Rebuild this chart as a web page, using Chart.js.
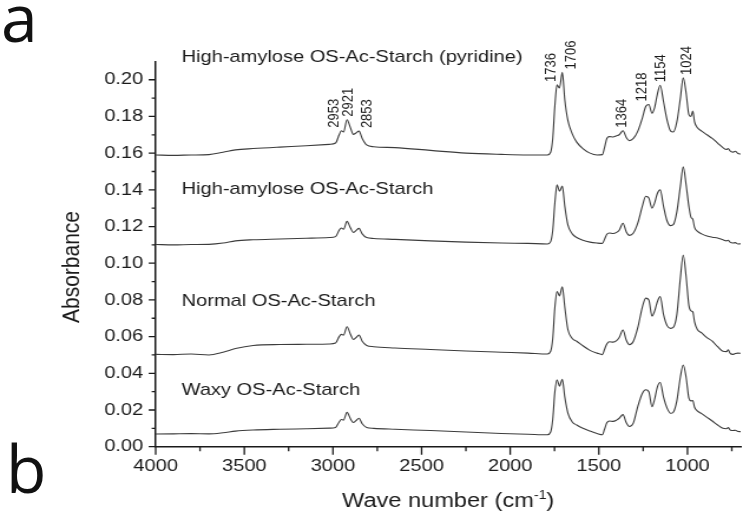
<!DOCTYPE html>
<html>
<head>
<meta charset="utf-8">
<title>FT-IR spectra of OS-Ac-starches</title>
<script src="https://cdn.jsdelivr.net/npm/chart.js@4.4.1/dist/chart.umd.min.js"></script>
<style>
  html, body { margin: 0; padding: 0; background: #fff; }
  #wrap { position: relative; width: 743px; height: 525px; overflow: hidden; }
  #spectra { position: absolute; left: 0; top: 0; }
  .panel { position: absolute; font-family: "Open Sans", sans-serif; font-size: 66px; line-height: 66px; color: #111; }
</style>
</head>
<body>
<div id="wrap">
  <canvas id="spectra" width="630" height="525" style="width:743px;height:525px"></canvas>
  <div class="panel" style="left:1px;top:-17px">a</div>
  <div class="panel" style="left:6px;top:434px">b</div>
</div>
<script>
// wave numbers (cm-1) shared by all four spectra
const waveNumbers = [
  4000, 3900, 3800, 3700, 3620, 3550, 3450, 3300, 3150, 3020,
  2985, 2965, 2953, 2940, 2921, 2900, 2885, 2870, 2853, 2835,
  2810, 2770, 2650, 2450, 2250, 2050, 1900, 1790, 1772, 1760,
  1748, 1736, 1722, 1706, 1692, 1675, 1650, 1625, 1590, 1550,
  1510, 1480, 1468, 1455, 1440, 1420, 1400, 1385, 1364, 1345,
  1328, 1305, 1280, 1255, 1235, 1218, 1200, 1185, 1170, 1154,
  1135, 1115, 1095, 1080, 1060, 1040, 1024, 1008, 992, 980,
  970, 960, 945, 920, 890, 860, 830, 800, 780, 770,
  760, 745, 730, 715, 700
];

const pyridineAc = [
  0.1590, 0.1588, 0.1590, 0.1592, 0.1605, 0.1618, 0.1625, 0.1633, 0.1640, 0.1648,
  0.1655, 0.1700, 0.1722, 0.1715, 0.1782, 0.1735, 0.1702, 0.1710, 0.1720, 0.1680,
  0.1645, 0.1635, 0.1630, 0.1615, 0.1600, 0.1593, 0.1590, 0.1590, 0.1605, 0.1680,
  0.1860, 0.1972, 0.1955, 0.2040, 0.1890, 0.1780, 0.1705, 0.1660, 0.1625, 0.1600,
  0.1590, 0.1592, 0.1630, 0.1680, 0.1690, 0.1688, 0.1695, 0.1700, 0.1722, 0.1685,
  0.1668, 0.1680, 0.1720, 0.1790, 0.1855, 0.1865, 0.1818, 0.1850, 0.1920, 0.1970,
  0.1880, 0.1780, 0.1720, 0.1715, 0.1770, 0.1900, 0.2010, 0.1930, 0.1810, 0.1800,
  0.1830, 0.1770, 0.1740, 0.1720, 0.1700, 0.1680, 0.1655, 0.1630, 0.1620, 0.1625,
  0.1612, 0.1605, 0.1610, 0.1598, 0.1595
];

const highAmyloseAc = [
  0.1102, 0.1100, 0.1102, 0.1103, 0.1110, 0.1122, 0.1128, 0.1132, 0.1136, 0.1140,
  0.1145, 0.1180, 0.1192, 0.1185, 0.1228, 0.1190, 0.1168, 0.1178, 0.1190, 0.1160,
  0.1140, 0.1135, 0.1130, 0.1122, 0.1115, 0.1110, 0.1108, 0.1105, 0.1118, 0.1180,
  0.1330, 0.1428, 0.1392, 0.1420, 0.1310, 0.1210, 0.1160, 0.1140, 0.1125, 0.1115,
  0.1110, 0.1108, 0.1130, 0.1158, 0.1165, 0.1162, 0.1168, 0.1180, 0.1218, 0.1170,
  0.1152, 0.1165, 0.1220, 0.1310, 0.1365, 0.1355, 0.1300, 0.1330, 0.1380, 0.1400,
  0.1310, 0.1230, 0.1205, 0.1210, 0.1280, 0.1420, 0.1525, 0.1430, 0.1310, 0.1250,
  0.1240, 0.1195, 0.1175, 0.1160, 0.1148, 0.1142, 0.1138, 0.1128, 0.1122, 0.1125,
  0.1115, 0.1110, 0.1112, 0.1105, 0.1106
];

const normalAc = [
  0.0503, 0.0502, 0.0505, 0.0500, 0.0515, 0.0535, 0.0552, 0.0557, 0.0558, 0.0560,
  0.0565, 0.0600, 0.0612, 0.0608, 0.0654, 0.0610, 0.0584, 0.0595, 0.0608, 0.0575,
  0.0552, 0.0545, 0.0538, 0.0530, 0.0522, 0.0515, 0.0510, 0.0505, 0.0520, 0.0590,
  0.0760, 0.0845, 0.0822, 0.0872, 0.0760, 0.0640, 0.0590, 0.0575, 0.0550, 0.0525,
  0.0510, 0.0502, 0.0530, 0.0560, 0.0572, 0.0570, 0.0578, 0.0595, 0.0636, 0.0580,
  0.0556, 0.0575, 0.0650, 0.0760, 0.0810, 0.0800, 0.0712, 0.0740, 0.0790, 0.0818,
  0.0720, 0.0660, 0.0645, 0.0650, 0.0720, 0.0920, 0.1045, 0.0930, 0.0770, 0.0740,
  0.0735, 0.0680, 0.0640, 0.0620, 0.0595, 0.0575, 0.0545, 0.0520, 0.0518, 0.0528,
  0.0510, 0.0503, 0.0508, 0.0510, 0.0509
];

const waxyAc = [
  0.0069, 0.0070, 0.0071, 0.0070, 0.0076, 0.0085, 0.0091, 0.0095, 0.0098, 0.0101,
  0.0105, 0.0135, 0.0148, 0.0145, 0.0187, 0.0150, 0.0132, 0.0142, 0.0155, 0.0125,
  0.0105, 0.0100, 0.0095, 0.0088, 0.0080, 0.0072, 0.0068, 0.0065, 0.0080, 0.0150,
  0.0300, 0.0365, 0.0330, 0.0368, 0.0270, 0.0185, 0.0135, 0.0118, 0.0100, 0.0085,
  0.0072, 0.0065, 0.0095, 0.0130, 0.0140, 0.0138, 0.0145, 0.0155, 0.0175, 0.0130,
  0.0110, 0.0130, 0.0220, 0.0290, 0.0310, 0.0300, 0.0218, 0.0260, 0.0325, 0.0350,
  0.0270, 0.0210, 0.0182, 0.0188, 0.0250, 0.0380, 0.0445, 0.0380, 0.0265, 0.0250,
  0.0252, 0.0215, 0.0195, 0.0180, 0.0160, 0.0140, 0.0118, 0.0100, 0.0098, 0.0104,
  0.0092, 0.0088, 0.0090, 0.0083, 0.0082
];

const seriesNames = [
  'High-amylose OS-Ac-Starch (pyridine)',
  'High-amylose OS-Ac-Starch',
  'Normal OS-Ac-Starch',
  'Waxy OS-Ac-Starch'
];
const seriesValues = [pyridineAc, highAmyloseAc, normalAc, waxyAc];

// assigned bands, marked on the top spectrum
const peakWaves = [2953, 2921, 2853, 1736, 1706, 1364, 1218, 1154, 1024];

const xTickLabels = ['4000', '3500', '3000', '2500', '2000', '1500', '1000'];
const yTickLabels = ['0.00', '0.02', '0.04', '0.06', '0.08', '0.10', '0.12', '0.14', '0.16', '0.18', '0.20'];

const xMajor = xTickLabels.map(Number);
const xMinor = xMajor.map(v => v - 250);
const yMajor = yTickLabels.map(Number);
const yMinor = yMajor.slice(0, -1).map(v => +(v + 0.01).toFixed(2));

Chart.defaults.font.family = '"Liberation Sans", Arial, sans-serif';
Chart.defaults.color = '#1a1a1a';

// the plot is drawn on a narrower canvas and stretched to full width by CSS
const STRETCH = 743 / 630;
const INK = '#1a1a1a';

// where the sample names sit (baseline, in absorbance units)
const nameLevels = [0.2098, 0.1377, 0.0767, 0.0282];
// sideways nudge of each band label from its peak, px
const peakNudge = { 2953: -6.5, 2921: 1.5, 2853: 8, 1736: -6.2, 1706: 8.8, 1364: -1, 1218: -6.4, 1154: 1, 1024: 4 };

const annotate = {
  id: 'annotate',
  afterDraw(chart) {
    const { ctx, chartArea, scales: { x, y } } = chart;
    ctx.save();

    // tick marks, outward
    ctx.strokeStyle = INK;
    ctx.lineWidth = 1.3;
    ctx.beginPath();
    xMajor.concat(xMinor).forEach(v => {
      const px = x.getPixelForValue(v);
      const len = xMajor.includes(v) ? 8 : 4.5;
      ctx.moveTo(px, chartArea.bottom);
      ctx.lineTo(px, chartArea.bottom + len);
    });
    yMajor.concat(yMinor).forEach(v => {
      const py = y.getPixelForValue(v);
      const len = (yMajor.includes(v) ? 7 : 4) / STRETCH;
      ctx.moveTo(chartArea.left, py);
      ctx.lineTo(chartArea.left - len, py);
    });
    ctx.stroke();

    ctx.fillStyle = INK;

    // sample names
    ctx.font = '17px "Liberation Sans", Arial, sans-serif';
    ctx.textAlign = 'left';
    ctx.textBaseline = 'alphabetic';
    seriesNames.forEach((name, i) => {
      ctx.fillText(name, 154, y.getPixelForValue(nameLevels[i]));
    });

    // band positions, written upward just above each peak
    ctx.font = '13px "Liberation Sans", Arial, sans-serif';
    ctx.textBaseline = 'middle';
    peakWaves.forEach(w => {
      const idx = waveNumbers.indexOf(w);
      const px = x.getPixelForValue(w) + peakNudge[w] / STRETCH;
      const py = y.getPixelForValue(pyridineAc[idx]) - 3;
      ctx.save();
      ctx.translate(px, py);
      ctx.rotate(-Math.PI / 2);
      ctx.fillText(String(w), 0, 0);
      ctx.restore();
    });

    // y axis title
    ctx.font = '21px "Liberation Sans", Arial, sans-serif';
    ctx.textAlign = 'center';
    ctx.save();
    ctx.translate(61, 267);
    ctx.rotate(-Math.PI / 2);
    ctx.fillText('Absorbance', 0, 0);
    ctx.restore();

    // x axis title with superscript
    const main = 'Wave number (cm';
    const sup = '-1';
    ctx.textAlign = 'left';
    ctx.textBaseline = 'alphabetic';
    ctx.font = '20px "Liberation Sans", Arial, sans-serif';
    const wMain = ctx.measureText(main).width;
    const wClose = ctx.measureText(')').width;
    ctx.font = '12px "Liberation Sans", Arial, sans-serif';
    const wSup = ctx.measureText(sup).width;
    const cx = (chartArea.left + chartArea.right) / 2;
    let tx = cx - (wMain + wSup + wClose) / 2;
    const base = 507;
    ctx.font = '20px "Liberation Sans", Arial, sans-serif';
    ctx.fillText(main, tx, base);
    tx += wMain;
    ctx.font = '12px "Liberation Sans", Arial, sans-serif';
    ctx.fillText(sup, tx, base - 8);
    tx += wSup;
    ctx.font = '20px "Liberation Sans", Arial, sans-serif';
    ctx.fillText(')', tx, base);

    ctx.restore();
  }
};

const datasets = seriesValues.map((vals, i) => ({
  label: seriesNames[i],
  data: waveNumbers.map((w, j) => ({ x: w, y: vals[j] })),
  showLine: true,
  borderColor: '#3c3c3c',
  borderWidth: 1.1,
  pointRadius: 0,
  fill: false,
  cubicInterpolationMode: 'monotone'
}));

new Chart(document.getElementById('spectra'), {
  type: 'scatter',
  data: { datasets },
  options: {
    responsive: false,
    animation: false,
    layout: { padding: { top: 61.4, right: 2, left: 0, bottom: 0 } },
    plugins: {
      legend: { display: false },
      tooltip: { enabled: false }
    },
    scales: {
      x: {
        type: 'linear',
        reverse: true,
        min: 700,
        max: 4000,
        afterBuildTicks: scale => {
          scale.ticks = xMajor.concat(xMinor).sort((a, b) => b - a).map(v => ({ value: v }));
        },
        afterFit: scale => { scale.height = 525 - 446.7; },
        grid: { display: false, drawTicks: false },
        border: { display: true, color: INK, width: 1.5 },
        ticks: {
          autoSkip: false,
          maxRotation: 0,
          padding: 9,
          font: { size: 17 },
          color: INK,
          callback: v => (xMajor.includes(v) ? String(v) : '')
        }
      },
      y: {
        min: 0,
        max: 0.21,
        afterBuildTicks: scale => {
          scale.ticks = yMajor.concat(yMinor).sort((a, b) => a - b).map(v => ({ value: v }));
        },
        afterFit: scale => { scale.width = 132; },
        grid: { display: false, drawTicks: false },
        border: { display: true, color: INK, width: 1.5 },
        ticks: {
          autoSkip: false,
          padding: 10.5,
          font: { size: 17 },
          color: INK,
          callback: v => {
            const k = yMajor.findIndex(m => Math.abs(m - v) < 1e-6);
            return k >= 0 ? yTickLabels[k] : '';
          }
        }
      }
    }
  },
  plugins: [annotate]
});
</script>
</body>
</html>
